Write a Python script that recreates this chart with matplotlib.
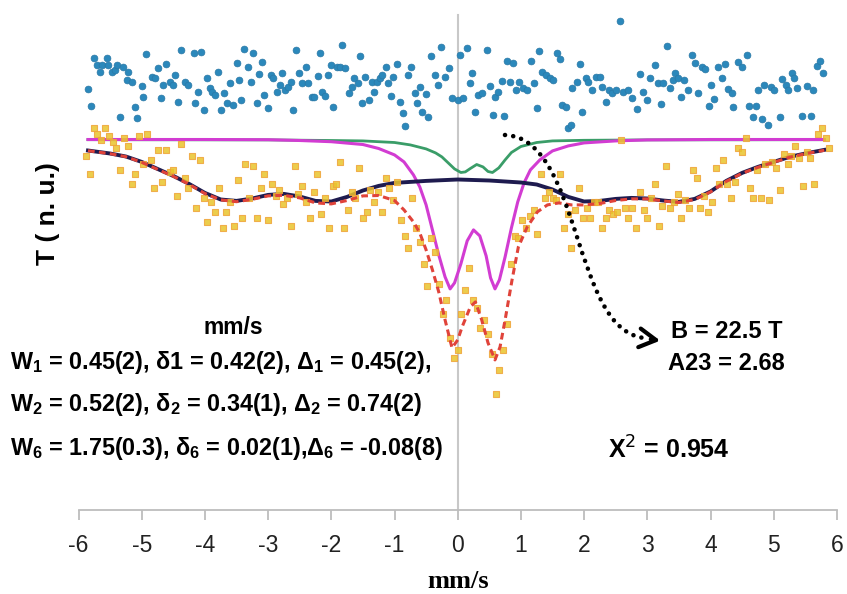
import matplotlib
matplotlib.use("Agg")
import matplotlib.pyplot as plt
from matplotlib.path import Path
from matplotlib.patches import PathPatch

# Mossbauer spectrum: measured points, fitted sub-spectra, total fit, residuals

# measured transmission (yellow squares)
data_v = [
    -5.88, -5.82, -5.76, -5.70, -5.64, -5.58, -5.52, -5.46, -5.40, -5.34,
    -5.28, -5.22, -5.16, -5.10, -5.04, -4.98, -4.92, -4.86, -4.80, -4.74,
    -4.68, -4.62, -4.56, -4.50, -4.44, -4.38, -4.32, -4.26, -4.20, -4.14,
    -4.08, -4.02, -3.96, -3.90, -3.84, -3.78, -3.72, -3.66, -3.60, -3.54,
    -3.48, -3.42, -3.36, -3.30, -3.24, -3.18, -3.12, -3.06, -3.00, -2.94,
    -2.88, -2.82, -2.76, -2.70, -2.64, -2.58, -2.52, -2.46, -2.40, -2.34,
    -2.28, -2.22, -2.16, -2.10, -2.04, -1.98, -1.92, -1.86, -1.80, -1.74,
    -1.68, -1.62, -1.56, -1.50, -1.44, -1.38, -1.32, -1.26, -1.20, -1.14,
    -1.08, -1.02, -0.96, -0.90, -0.84, -0.78, -0.72, -0.66, -0.60, -0.54,
    -0.48, -0.42, -0.36, -0.30, -0.24, -0.18, -0.12, -0.06, 0.00, 0.06,
    0.12, 0.18, 0.24, 0.30, 0.36, 0.42, 0.48, 0.54, 0.60, 0.66,
    0.72, 0.78, 0.84, 0.90, 0.96, 1.02, 1.08, 1.14, 1.20, 1.26,
    1.32, 1.38, 1.44, 1.50, 1.56, 1.62, 1.68, 1.74, 1.80, 1.86,
    1.92, 1.98, 2.04, 2.10, 2.16, 2.22, 2.28, 2.34, 2.40, 2.46,
    2.52, 2.58, 2.64, 2.70, 2.76, 2.82, 2.88, 2.94, 3.00, 3.06,
    3.12, 3.18, 3.24, 3.30, 3.36, 3.42, 3.48, 3.54, 3.60, 3.66,
    3.72, 3.78, 3.84, 3.90, 3.96, 4.02, 4.08, 4.14, 4.20, 4.26,
    4.32, 4.38, 4.44, 4.50, 4.56, 4.62, 4.68, 4.74, 4.80, 4.86,
    4.92, 4.98, 5.04, 5.10, 5.16, 5.22, 5.28, 5.34, 5.40, 5.46,
    5.52, 5.58, 5.64, 5.70, 5.76, 5.82, 5.88,
]
data_T = [
    99.2, 98.3, 100.6, 100.3, 100.0, 100.6, 100.2, 99.9, 99.6, 98.5,
    100.1, 99.7, 97.8, 98.3, 100.2, 98.8, 100.3, 99.0, 97.6, 99.5,
    97.9, 99.5, 98.4, 98.5, 97.2, 99.8, 98.1, 97.6, 99.2, 96.6,
    99.0, 97.1, 95.9, 96.9, 96.4, 97.6, 95.6, 96.4, 96.9, 95.7,
    98.0, 96.1, 98.8, 97.1, 98.7, 96.1, 97.6, 98.3, 96.0, 97.8,
    97.2, 97.5, 96.8, 97.1, 95.7, 98.7, 97.3, 97.7, 96.9, 96.1,
    97.4, 98.3, 96.3, 97.1, 95.6, 97.7, 97.8, 98.9, 95.6, 96.5,
    97.4, 97.1, 98.6, 96.1, 96.4, 97.5, 96.9, 97.4, 96.4, 98.1,
    97.6, 97.0, 97.9, 96.0, 95.2, 94.6, 97.1, 95.6, 94.9, 93.8,
    92.7, 95.1, 94.4, 92.8, 91.3, 92.0, 90.1, 89.1, 89.5, 91.3,
    92.5, 93.6, 92.0, 91.6, 90.6, 91.0, 90.3, 89.3, 87.3, 88.5,
    89.5, 90.8, 93.8, 95.2, 95.1, 96.0, 95.6, 96.2, 96.5, 95.3,
    98.3, 97.1, 97.4, 97.1, 97.0, 98.3, 95.6, 96.3, 94.6, 96.5,
    97.6, 96.1, 96.6, 96.1, 96.9, 96.9, 95.6, 96.1, 96.5, 96.3,
    96.4, 100.0, 96.6, 96.1, 96.6, 95.6, 97.4, 96.5, 96.1, 97.1,
    97.8, 95.7, 96.7, 98.7, 96.6, 96.9, 97.3, 96.1, 97.0, 96.6,
    98.5, 98.1, 96.6, 97.2, 96.4, 96.9, 98.6, 97.8, 99.0, 97.8,
    97.1, 97.9, 99.6, 99.4, 100.1, 97.6, 97.1, 98.5, 97.1, 98.8,
    97.0, 98.9, 98.6, 97.5, 99.3, 98.8, 99.2, 99.7, 99.1, 97.7,
    99.4, 99.1, 97.8, 100.3, 100.6, 100.1, 99.6,
]

# residuals, drawn shifted above the spectrum (blue dots)
resid_v = [
    -5.85, -5.80, -5.75, -5.71, -5.66, -5.63, -5.55, -5.53, -5.47, -5.42,
    -5.39, -5.34, -5.29, -5.23, -5.22, -5.15, -5.10, -5.07, -5.00, -4.98,
    -4.93, -4.84, -4.79, -4.74, -4.69, -4.66, -4.62, -4.55, -4.51, -4.47,
    -4.42, -4.38, -4.31, -4.26, -4.18, -4.15, -4.11, -4.06, -4.01, -3.96,
    -3.92, -3.88, -3.84, -3.79, -3.75, -3.70, -3.65, -3.61, -3.56, -3.49,
    -3.46, -3.43, -3.38, -3.32, -3.27, -3.24, -3.18, -3.14, -3.10, -3.07,
    -3.00, -2.95, -2.92, -2.86, -2.81, -2.78, -2.73, -2.69, -2.64, -2.61,
    -2.56, -2.51, -2.46, -2.40, -2.37, -2.30, -2.27, -2.21, -2.18, -2.15,
    -2.10, -2.05, -2.00, -1.97, -1.91, -1.86, -1.83, -1.78, -1.72, -1.67,
    -1.64, -1.58, -1.55, -1.52, -1.46, -1.41, -1.36, -1.33, -1.28, -1.23,
    -1.20, -1.14, -1.10, -1.05, -1.02, -0.96, -0.91, -0.86, -0.83, -0.79,
    -0.74, -0.68, -0.64, -0.60, -0.57, -0.50, -0.47, -0.42, -0.36, -0.31,
    -0.26, -0.20, -0.14, -0.09, 0.00, 0.04, 0.08, 0.15, 0.19, 0.23,
    0.27, 0.32, 0.39, 0.46, 0.51, 0.56, 0.59, 0.64, 0.70, 0.73,
    0.78, 0.83, 0.87, 0.92, 0.97, 1.03, 1.10, 1.16, 1.21, 1.25,
    1.29, 1.33, 1.40, 1.46, 1.51, 1.57, 1.62, 1.65, 1.71, 1.75,
    1.79, 1.81, 1.89, 1.94, 1.97, 2.03, 2.06, 2.12, 2.19, 2.25,
    2.28, 2.35, 2.39, 2.44, 2.50, 2.57, 2.61, 2.69, 2.76, 2.84,
    2.88, 2.93, 2.99, 3.04, 3.12, 3.17, 3.22, 3.25, 3.31, 3.36,
    3.41, 3.44, 3.49, 3.53, 3.58, 3.65, 3.71, 3.76, 3.80, 3.87,
    3.91, 3.98, 4.01, 4.06, 4.12, 4.18, 4.23, 4.27, 4.34, 4.35,
    4.43, 4.50, 4.58, 4.61, 4.67, 4.72, 4.75, 4.81, 4.85, 4.91,
    4.96, 5.00, 5.10, 5.13, 5.19, 5.22, 5.29, 5.32, 5.37, 5.45,
    5.53, 5.59, 5.62, 5.69, 5.73, 5.78,
]
resid_T = [
    102.53, 101.68, 104.08, 103.73, 103.38, 103.73, 104.08, 103.73, 103.38, 103.48,
    103.73, 101.13, 103.63, 102.98, 103.38, 102.88, 101.63, 101.08, 102.68, 102.13,
    104.28, 103.13, 103.08, 103.58, 102.08, 102.73, 103.78, 102.88, 102.73, 103.23,
    101.88, 104.48, 102.88, 102.73, 104.33, 101.83, 102.38, 104.38, 101.48, 103.08,
    102.58, 102.38, 102.23, 103.38, 101.48, 102.33, 101.83, 102.83, 101.73, 103.83,
    102.98, 101.98, 104.53, 103.63, 102.88, 104.33, 101.83, 103.28, 103.88, 102.23,
    101.58, 103.23, 103.08, 102.38, 102.73, 103.33, 102.48, 102.63, 102.88, 101.48,
    104.48, 103.33, 102.83, 103.63, 102.83, 102.13, 102.13, 103.18, 104.33, 102.38,
    102.18, 103.23, 103.73, 101.63, 103.63, 103.63, 104.73, 103.58, 102.33, 102.63,
    103.08, 102.83, 104.18, 101.83, 103.13, 101.98, 102.88, 102.38, 102.88, 103.08,
    103.23, 103.63, 102.83, 102.18, 103.13, 103.78, 101.88, 101.33, 100.68, 103.23,
    103.63, 102.33, 101.83, 102.63, 101.38, 102.28, 101.13, 104.18, 103.23, 102.73,
    104.63, 103.13, 103.58, 102.08, 101.98, 104.23, 102.08, 104.58, 102.83, 103.33,
    101.38, 102.23, 102.33, 104.48, 102.68, 101.23, 102.13, 102.38, 102.93, 101.18,
    103.93, 102.88, 103.83, 102.48, 102.88, 102.58, 102.48, 103.93, 102.83, 101.58,
    104.43, 103.38, 103.23, 103.08, 102.98, 104.33, 104.03, 101.73, 101.63, 100.58,
    100.73, 102.58, 102.88, 103.78, 101.38, 103.08, 102.88, 102.48, 103.13, 103.13,
    102.63, 101.88, 102.48, 102.33, 102.48, 105.93, 102.38, 102.48, 102.08, 101.53,
    103.28, 102.38, 101.98, 103.08, 103.73, 102.83, 101.78, 102.83, 104.68, 102.58,
    102.98, 103.33, 103.08, 102.13, 102.98, 102.48, 104.23, 103.83, 102.33, 103.63,
    103.53, 101.68, 102.73, 102.03, 103.63, 103.08, 103.78, 102.53, 102.33, 101.63,
    103.88, 103.63, 104.23, 101.68, 101.13, 101.68, 102.48, 101.03, 102.73, 100.73,
    102.63, 102.48, 101.13, 103.03, 102.73, 102.48, 103.33, 103.08, 102.58, 101.18,
    102.68, 101.18, 102.48, 103.68, 103.93, 103.33,
]

# sextet component (dark navy)
navy_v = [-5.85, -5.5, -5.25, -5.0, -4.75, -4.5, -4.25, -4.0, -3.75, -3.5,
          -3.25, -3.0, -2.75, -2.5, -2.25, -2.0, -1.75, -1.5, -1.25, -1.0,
          -0.5, 0.0, 0.5, 1.0, 1.25, 1.5, 1.75, 2.0, 2.25, 2.5,
          2.75, 3.0, 3.25, 3.5, 3.75, 4.0, 4.25, 4.5, 4.75, 5.0,
          5.25, 5.5, 5.8]
navy_T = [99.45, 99.30, 99.15, 98.88, 98.53, 98.18, 97.78, 97.33, 97.00, 96.93,
          97.05, 97.23, 97.28, 97.15, 96.93, 96.90, 97.13, 97.45, 97.68, 97.83,
          97.93, 98.00, 97.95, 97.85, 97.75, 97.50, 97.13, 96.90, 96.93, 97.03,
          97.08, 97.05, 96.95, 96.88, 97.03, 97.40, 97.93, 98.33, 98.63, 98.88,
          99.13, 99.30, 99.48]

# small doublet (green)
green_v = [-5.85, -3.0, -2.0, -1.5, -1.0, -0.75, -0.5, -0.35, -0.25, -0.15,
           -0.05, 0.05, 0.12, 0.2, 0.3, 0.4, 0.48, 0.55, 0.65, 0.75,
           0.85, 1.0, 1.25, 1.5, 2.0, 3.0, 5.8]
green_T = [99.99, 99.98, 99.95, 99.93, 99.85, 99.73, 99.53, 99.33, 99.13, 98.83,
           98.53, 98.35, 98.38, 98.55, 98.75, 98.63, 98.40, 98.35, 98.58, 98.98,
           99.35, 99.65, 99.85, 99.93, 99.96, 99.98, 99.99]

# main doublet (magenta)
magenta_v = [-5.85, -4.0, -3.0, -2.5, -2.0, -1.5, -1.25, -1.0, -0.85, -0.7,
             -0.6, -0.5, -0.4, -0.3, -0.2, -0.12, -0.05, 0.05, 0.15, 0.25,
             0.35, 0.45, 0.52, 0.59, 0.66, 0.75, 0.85, 0.95, 1.05, 1.15,
             1.3, 1.5, 1.75, 2.0, 2.5, 3.0, 4.0, 5.8]
magenta_T = [100.0, 100.0, 99.99, 99.95, 99.89, 99.75, 99.55, 99.23, 98.88, 98.23,
             97.63, 96.73, 95.48, 94.23, 93.13, 92.53, 92.83, 93.78, 94.93, 95.48,
             95.18, 94.18, 93.08, 92.53, 92.98, 94.13, 95.58, 96.88, 97.83, 98.48,
             98.98, 99.43, 99.68, 99.83, 99.93, 99.98, 100.0, 100.0]

# total fit (red dashed)
fit_v = [-5.85, -5.5, -5.25, -5.0, -4.75, -4.5, -4.25, -4.0, -3.75, -3.5,
         -3.25, -3.0, -2.75, -2.5, -2.25, -2.0, -1.75, -1.5, -1.25, -1.0,
         -0.85, -0.7, -0.6, -0.5, -0.4, -0.3, -0.2, -0.09, 0.0, 0.07,
         0.2, 0.28, 0.38, 0.48, 0.59, 0.67, 0.75, 0.86, 0.96, 1.1,
         1.26, 1.42, 1.6, 1.8, 2.0, 2.25, 2.5, 2.75, 3.0, 3.25,
         3.5, 3.75, 4.0, 4.25, 4.5, 4.75, 5.0, 5.25, 5.5, 5.8]
fit_T = [99.44, 99.29, 99.14, 98.86, 98.51, 98.16, 97.76, 97.30, 96.98, 96.89,
         97.01, 97.18, 97.21, 97.08, 96.83, 96.78, 96.95, 97.18, 97.20, 96.95,
         96.48, 95.88, 95.33, 94.48, 93.48, 92.38, 90.98, 89.58, 89.98, 90.63,
         91.63, 91.88, 90.98, 89.83, 88.98, 89.63, 90.98, 92.98, 94.63, 95.63,
         96.38, 96.73, 96.83, 96.73, 96.73, 96.80, 96.95, 97.03, 97.03, 96.93,
         96.85, 97.00, 97.38, 97.91, 98.31, 98.61, 98.86, 99.11, 99.29, 99.46]

x_ticks = [-6, -5, -4, -3, -2, -1, 0, 1, 2, 3, 4, 5, 6]

plt.rcParams["font.family"] = ["Liberation Sans", "DejaVu Sans"]
plt.rcParams["mathtext.fontset"] = "custom"
plt.rcParams["mathtext.rm"] = "Liberation Sans:bold"
plt.rcParams["mathtext.it"] = "Liberation Sans:bold"
plt.rcParams["mathtext.bf"] = "Liberation Sans:bold"

W, H = 847, 594


def fx(px):
    return px / W


def fy(py):
    return 1 - py / H


# pixel -> data helpers for the annotation arrow
def dv(px):
    return (px - 457.7) / 63.2


def dT(py):
    return 106.975 - py / 20.0


fig = plt.figure(figsize=(W / 100, H / 100), dpi=100)
ax = fig.add_axes([fx(78.5), fy(510), (836.9 - 78.5) / W, (510 - 15) / H])
ax.set_xlim(-6, 6)
ax.set_ylim(dT(510), dT(15))

ax.plot(green_v, green_T, color="#3a9d68", lw=2.0, zorder=2)
ax.plot(magenta_v, magenta_T, color="#d23cd2", lw=2.2, zorder=3)
ax.plot(navy_v, navy_T, color="#1e1b4f", lw=2.8, zorder=3)
ax.scatter(data_v, data_T, marker="s", s=22, c="#e9c52c", edgecolors="#f0a53a",
           linewidths=0.8, alpha=0.85, zorder=4)
ax.plot(fit_v, fit_T, color="#e0433a", lw=2.2, ls=(0, (2.2, 1.4)), zorder=5)
ax.scatter(resid_v, resid_T, s=24, c="#2b88bb", edgecolors="#2a78a6",
           linewidths=0.5, zorder=4)

# axes styling (Excel-like)
for s in ["top", "right"]:
    ax.spines[s].set_visible(False)
ax.spines["left"].set_position(("data", 0))
ax.spines["left"].set_color("#c8c8c8")
ax.spines["left"].set_linewidth(1.5)
ax.spines["left"].set_zorder(1)
ax.spines["bottom"].set_color("#bdbdbd")
ax.spines["bottom"].set_linewidth(1.3)
ax.set_yticks([])
ax.set_xticks(x_ticks)
ax.set_xticklabels([str(t) for t in x_ticks])
ax.tick_params(axis="x", direction="out", length=7, width=1.3, color="#bdbdbd",
               labelsize=16.5, labelcolor="#222222", pad=10)

fig.text(fx(48), fy(214), "T ( n. u.)", rotation=90, ha="center", va="center",
         fontsize=19, fontweight="bold")
fig.text(fx(458), fy(581), "mm/s", ha="center", va="center", fontsize=19,
         fontweight="bold", family="Liberation Serif")

# parameter block
fig.text(fx(233), fy(328), "mm/s", ha="center", va="center", fontsize=16.5,
         fontweight="bold")
fig.text(fx(10), fy(362), r"W$_1$ = 0.45(2), δ1 = 0.42(2), Δ$_1$ = 0.45(2),",
         ha="left", va="center", fontsize=16.8, fontweight="bold")
fig.text(fx(10), fy(404), r"W$_2$ = 0.52(2), δ$_2$ = 0.34(1), Δ$_2$ = 0.74(2)",
         ha="left", va="center", fontsize=16.8, fontweight="bold")
fig.text(fx(10), fy(448), r"W$_6$ = 1.75(0.3), δ$_6$ = 0.02(1),Δ$_6$ = -0.08(8)",
         ha="left", va="center", fontsize=16.8, fontweight="bold")

fig.text(fx(671), fy(332), "B = 22.5 T", ha="left", va="center", fontsize=17,
         fontweight="bold")
fig.text(fx(668), fy(363), "A23 = 2.68", ha="left", va="center", fontsize=17,
         fontweight="bold")
fig.text(fx(608), fy(450), r"X$^{\mathsf{2}}$ = 0.954", ha="left", va="center",
         fontsize=18, fontweight="bold")

# dotted curved arrow pointing at the sextet parameters
verts = [(dv(505), dT(135)), (dv(582), dT(138)), (dv(572), dT(332)), (dv(645), dT(338))]
codes = [Path.MOVETO, Path.CURVE4, Path.CURVE4, Path.CURVE4]
ax.add_patch(PathPatch(Path(verts, codes), fill=False, edgecolor="black", lw=3.3,
                       linestyle=(0, (0.01, 1.8)), capstyle="round", zorder=6,
                       clip_on=False))
ax.annotate("", xy=(dv(663), dT(341)), xytext=(dv(648), dT(339)),
            arrowprops=dict(arrowstyle="->,head_length=0.8,head_width=0.45",
                            lw=3, color="black", mutation_scale=15),
            annotation_clip=False, zorder=6)

fig.savefig("out.png", dpi=100)
